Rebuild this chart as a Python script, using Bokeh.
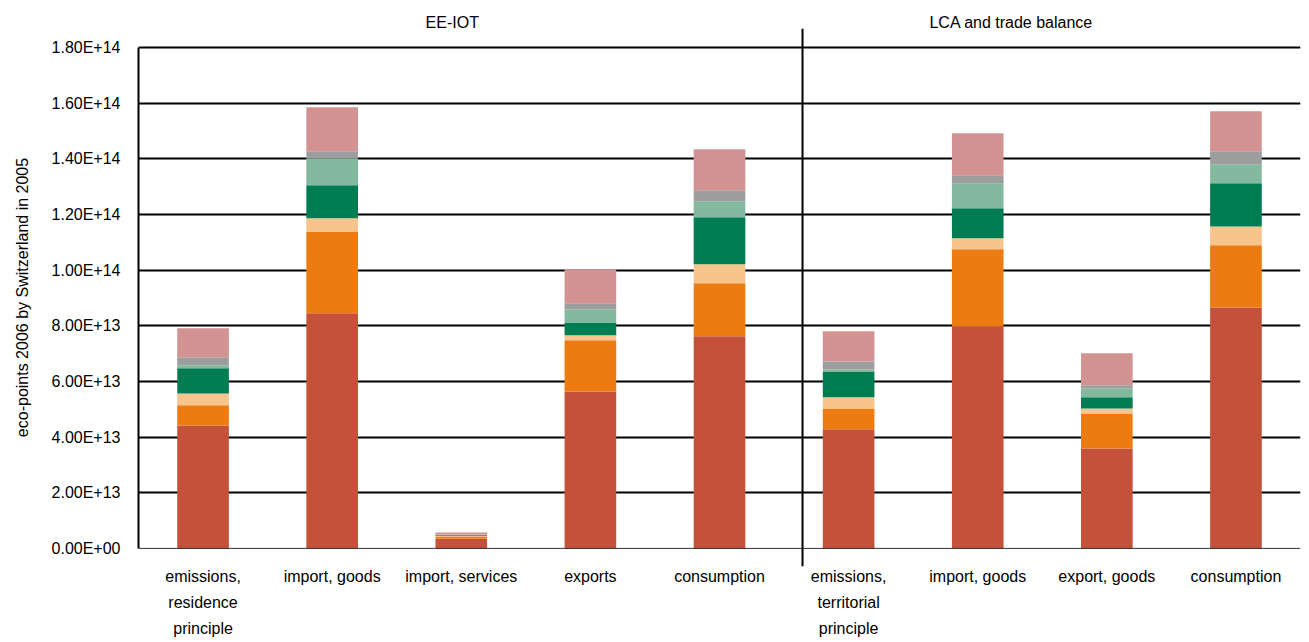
from bokeh.plotting import figure
from bokeh.models import ColumnDataSource, FixedTicker, Span, Range1d, LinearAxis
from bokeh.embed import file_html
from bokeh.resources import INLINE

# ---- data (eco-points, units of 1E12) ----
categories = ["emissions,\nresidence\nprinciple", "import, goods", "import, services",
              "exports", "consumption",
              "emissions,\nterritorial\nprinciple", "import, goods", "export, goods",
              "consumption"]
groups = ["EE-IOT", "LCA and trade balance"]

s1 = [44.2, 84.5, 3.6, 56.4, 76.2, 42.8, 79.8, 35.9, 86.6]
s2 = [7.2, 29.4, 0.7, 18.4, 19.1, 7.5, 27.7, 12.6, 22.3]
s3 = [4.3, 4.7, 0.15, 1.8, 6.8, 4.0, 3.9, 1.8, 6.8]
s4 = [9.0, 11.9, 0.3, 4.6, 16.9, 9.3, 10.8, 4.0, 15.5]
s5 = [1.1, 9.7, 0.15, 4.7, 5.7, 0.7, 9.0, 3.2, 6.8]
s6 = [2.9, 2.5, 0.1, 2.2, 4.0, 2.9, 2.9, 1.1, 4.7]
s7 = [10.4, 15.8, 0.75, 12.2, 14.7, 10.8, 15.1, 11.5, 14.4]
yticks = [0, 2e13, 4e13, 6e13, 8e13, 1e14, 1.2e14, 1.4e14, 1.6e14, 1.8e14]

series = [s1, s2, s3, s4, s5, s6, s7]
names = ["s1", "s2", "s3", "s4", "s5", "s6", "s7"]
colors = ["#C4513A", "#EC7C11", "#F8C48E", "#007C52", "#83B99F", "#9D9D9D", "#D29392"]

xs = [i + 0.5 for i in range(len(categories))]
group_x = [2.43, 6.76]
data = {"x": xs}
for n, s in zip(names, series):
    data[n] = [v * 1e12 for v in s]
source = ColumnDataSource(data)

FONT = "Liberation Sans"

ymax = yticks[-1]
p = figure(width=1309, height=642, output_backend="svg", toolbar_location=None,
           x_range=Range1d(0, len(categories)),
           y_range=Range1d(-6.5e12, ymax + 6.8e12),
           min_border_left=138, min_border_right=9, min_border_top=28, min_border_bottom=76)
p.outline_line_color = None
p.background_fill_color = "white"

p.vbar_stack(names, x="x", width=0.4, color=colors, source=source, line_width=0)

# axes
p.xaxis.ticker = FixedTicker(ticks=xs)
p.xaxis.major_label_overrides = {x: c for x, c in zip(xs, categories)}
p.xaxis.axis_line_color = None
p.xaxis.major_tick_line_color = None
p.xaxis.minor_tick_line_color = None
p.xaxis.major_label_standoff = -5
p.xaxis.major_label_text_font = FONT
p.xaxis.major_label_text_font_size = "16px"
p.xaxis.major_label_text_color = "black"
p.xaxis.major_label_text_line_height = 1.55

p.yaxis.ticker = FixedTicker(ticks=yticks)
p.yaxis.major_label_overrides = {t: f"{t:.2E}" for t in yticks}
p.yaxis.bounds = (0, ymax)
p.yaxis.axis_line_color = "black"
p.yaxis.axis_line_width = 2
p.yaxis.major_tick_line_color = None
p.yaxis.minor_tick_line_color = None
p.yaxis.major_label_standoff = 12
p.yaxis.major_label_text_font = FONT
p.yaxis.major_label_text_font_size = "16px"
p.yaxis.major_label_text_color = "black"
p.yaxis.axis_label = "eco-points 2006 by Switzerland in 2005"
p.yaxis.axis_label_text_font = FONT
p.yaxis.axis_label_text_font_size = "16px"
p.yaxis.axis_label_text_font_style = "normal"
p.yaxis.axis_label_text_color = "black"
p.yaxis.axis_label_standoff = 18

# group titles as a top axis
top = LinearAxis(ticker=FixedTicker(ticks=group_x),
                 major_label_overrides={x: g for x, g in zip(group_x, groups)},
                 axis_line_color=None, major_tick_line_color=None, minor_tick_line_color=None,
                 major_label_standoff=-8, major_label_text_font=FONT,
                 major_label_text_font_size="16px", major_label_text_color="black")
p.add_layout(top, "above")

# grid
p.xgrid.grid_line_color = None
p.ygrid.ticker = FixedTicker(ticks=yticks[1:])
p.ygrid.grid_line_color = "black"
p.ygrid.grid_line_width = 2

# baseline and group separator
p.add_layout(Span(location=0, dimension="width", line_color="#333333", line_width=1))
p.add_layout(Span(location=5.143, dimension="height", line_color="black", line_width=2))

open("out.html", "w").write(file_html(p, INLINE))
